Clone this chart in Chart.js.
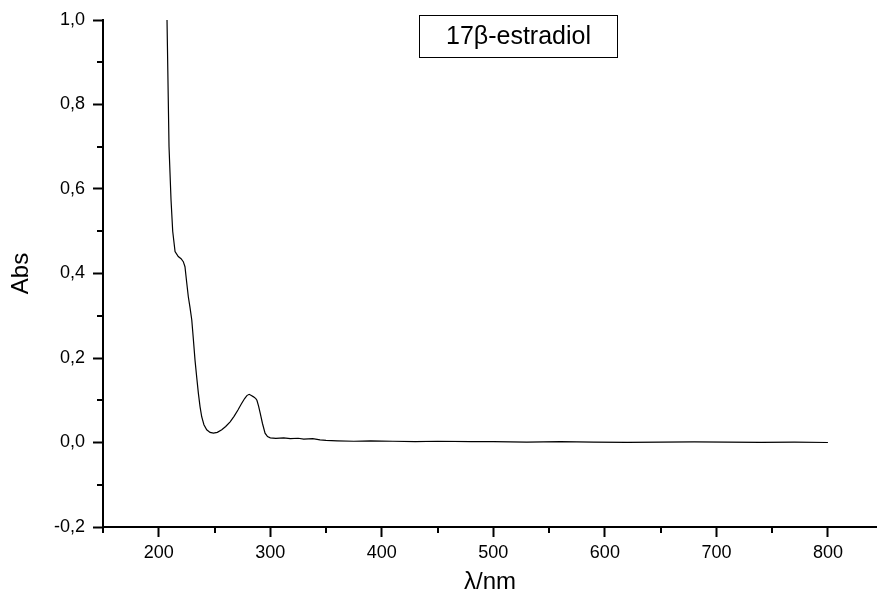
<!DOCTYPE html>
<html>
<head>
<meta charset="utf-8">
<script src="https://cdn.jsdelivr.net/npm/chart.js@4/dist/chart.umd.min.js"></script>
<style>
  html, body { margin: 0; padding: 0; background: #fff; }
  #wrap { width: 877px; height: 605px; position: relative; }
</style>
</head>
<body>
<div id="wrap"><canvas id="chart"></canvas></div>
<script>
// spectrum
const wavelength = [206, 207.4, 209.2, 211, 212.5, 214.6, 217.5, 220, 222, 223.5, 225, 226.5, 228, 229.6,
    231, 232.5, 234, 235.5, 237, 238.5, 240.5, 243, 246, 249, 252.5, 256.5, 260, 264, 267.5, 271, 274,
    277, 279, 281, 283, 285, 287, 288, 289.5, 291, 293, 295.3, 297.5, 300, 305, 312, 318, 325, 330, 338,
    344.6, 350, 360, 375, 390, 410, 430, 450, 480, 500, 530, 560, 590, 620, 650, 680, 710, 740, 770, 800];
const absorbance = [1.1, 1.0, 0.70, 0.574, 0.50, 0.452, 0.44, 0.435, 0.428, 0.416, 0.38, 0.345, 0.32, 0.29,
    0.245, 0.195, 0.155, 0.117, 0.085, 0.061, 0.042, 0.030, 0.024, 0.022, 0.024, 0.030, 0.038, 0.049, 0.062, 0.077, 0.091,
    0.104, 0.111, 0.114, 0.111, 0.108, 0.104, 0.100, 0.086, 0.069, 0.045, 0.022, 0.014, 0.011, 0.010, 0.011, 0.009, 0.010, 0.008, 0.009,
    0.006, 0.005, 0.004, 0.003, 0.004, 0.003, 0.002, 0.003, 0.002, 0.002, 0.001, 0.002, 0.001, 0.0005, 0.001, 0.0015, 0.001, 0.0005, 0.001, 0.0];

const xTicks = [200, 300, 400, 500, 600, 700, 800];
const yTicks = [-0.2, 0.0, 0.2, 0.4, 0.6, 0.8, 1.0];
const xMinorTicks = [150, 250, 350, 450, 550, 650, 750];
const yMinorTicks = [-0.1, 0.1, 0.3, 0.5, 0.7, 0.9];
const sampleName = '17\u03b2-estradiol';

const FONT = 'Liberation Sans, Arial, sans-serif';

// minor ticks and the sample label box
const extras = {
    id: 'extras',
    afterDraw(chart) {
        let ctx = chart.ctx;
        let xs = chart.scales.x;
        let ys = chart.scales.y;
        let area = chart.chartArea;
        ctx.save();
        ctx.strokeStyle = '#000';
        ctx.lineWidth = 2;
        ctx.beginPath();
        xMinorTicks.forEach(v => {
            let px = Math.round(xs.getPixelForValue(v));
            ctx.moveTo(px, area.bottom);
            ctx.lineTo(px, area.bottom + 6);
        });
        yMinorTicks.forEach(v => {
            let py = Math.round(ys.getPixelForValue(v));
            ctx.moveTo(area.left, py);
            ctx.lineTo(area.left - 6, py);
        });
        ctx.stroke();

        ctx.lineWidth = 1;
        ctx.strokeRect(419.5, 15.5, 198, 42);
        ctx.fillStyle = '#000';
        ctx.font = '25px ' + FONT;
        ctx.textAlign = 'center';
        ctx.textBaseline = 'middle';
        ctx.fillText(sampleName, 518.5, 37);
        ctx.restore();
    }
};

const commaFmt = v => v.toFixed(1).replace('.', ',');

new Chart(document.getElementById('chart'), {
    type: 'line',
    data: {
        labels: wavelength,
        datasets: [{
            data: wavelength.map((w, i) => ({ x: w, y: absorbance[i] })),
            borderColor: '#000',
            borderWidth: 1.2,
            pointRadius: 0,
            tension: 0,
            fill: false
        }]
    },
    options: {
        responsive: true,
        maintainAspectRatio: false,
        animation: false,
        events: [],
        layout: { padding: { top: 20, right: 0, bottom: 0, left: 0 } },
        plugins: { legend: { display: false }, tooltip: { enabled: false } },
        scales: {
            x: {
                type: 'linear',
                min: 150,
                max: 844,
                afterBuildTicks: s => { s.ticks = xTicks.map(v => ({ value: v })); },
                afterFit: s => { s.height = 78; },
                border: { display: true, color: '#000', width: 2 },
                grid: { drawOnChartArea: false, drawTicks: true, tickLength: 10, tickWidth: 2, tickColor: '#000' },
                ticks: { color: '#000', font: { family: FONT, size: 18 }, padding: 5, maxRotation: 0 },
                title: { display: true, text: '\u03bb/nm', color: '#000', font: { family: FONT, size: 24 }, padding: { top: 0, bottom: 8 } }
            },
            y: {
                type: 'linear',
                min: -0.2,
                max: 1.0,
                afterBuildTicks: s => { s.ticks = yTicks.map(v => ({ value: v })); },
                afterFit: s => { s.width = 103; },
                border: { display: true, color: '#000', width: 2 },
                grid: { drawOnChartArea: false, drawTicks: true, tickLength: 10, tickWidth: 2, tickColor: '#000' },
                ticks: { color: '#000', font: { family: FONT, size: 18 }, padding: 8, callback: v => commaFmt(v) },
                title: { display: true, text: 'Abs', color: '#000', font: { family: FONT, size: 24 }, padding: { top: 7, bottom: 0 } }
            }
        }
    },
    plugins: [extras]
});
</script>
</body>
</html>
